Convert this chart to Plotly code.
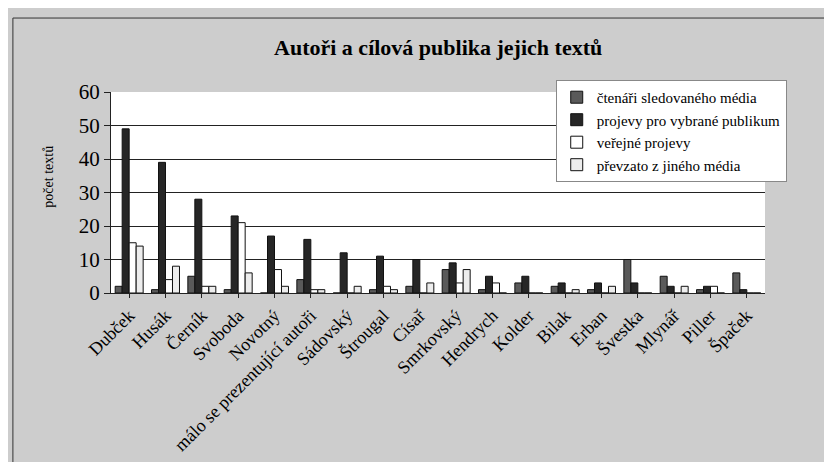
import plotly.graph_objects as go

categories = ["Dubček", "Husák", "Černík", "Svoboda", "Novotný",
              "málo se prezentující autoři", "Sádovský", "Štrougal", "Císař",
              "Smrkovský", "Hendrych", "Kolder", "Bilak", "Erban", "Švestka",
              "Mlynář", "Piller", "Špaček"]

ctenari = [2, 1, 5, 1, 0, 4, 0, 1, 2, 7, 1, 3, 2, 1, 10, 5, 1, 6]
projevy_vybrane = [49, 39, 28, 23, 17, 16, 12, 11, 10, 9, 5, 5, 3, 3, 3, 2, 2, 1]
verejne = [15, 4, 2, 21, 7, 1, 0, 2, 0, 3, 3, 0, 0, 0, 0, 0, 2, 0]
prevzato = [14, 8, 2, 6, 2, 1, 2, 1, 3, 7, 0, 0, 1, 2, 0, 2, 0, 0]

series_names = ["čtenáři sledovaného média", "projevy pro vybrané publikum",
                "veřejné projevy", "převzato z jiného média"]
y_ticks = [0, 10, 20, 30, 40, 50, 60]

serif = "Liberation Serif, serif"
fills = ["#5a5a5a", "#262626", "#ffffff", "#ededed"]

fig = go.Figure()
for name, vals, col in zip(series_names, [ctenari, projevy_vybrane, verejne, prevzato], fills):
    fig.add_trace(go.Bar(
        x=categories, y=vals, name=name,
        marker=dict(color=col, line=dict(color="#111111", width=1)),
    ))

fig.update_layout(
    width=832, height=462,
    barmode="group", bargap=0.23, bargroupgap=0,
    paper_bgcolor="#cdcdcd", plot_bgcolor="#ffffff",
    margin=dict(l=103, r=75, t=84, b=177),
    title=dict(text="<b>Autoři a cílová publika jejich textů</b>",
               x=0.517, xanchor="center", y=0.915, yanchor="middle",
               font=dict(family=serif, size=22, color="#000000")),
    font=dict(family=serif, color="#000000"),
    legend=dict(x=0.68, y=1.06, xanchor="left", yanchor="top",
                bgcolor="#ffffff", bordercolor="#888888", borderwidth=1,
                font=dict(family=serif, size=15, color="#000000")),
)

fig.update_yaxes(
    range=[0, 60], tickvals=y_ticks, ticktext=[str(v) for v in y_ticks],
    showgrid=True, gridcolor="#222222", gridwidth=1,
    showline=True, linecolor="#222222", linewidth=1,
    ticks="outside", ticklen=6, tickcolor="#222222",
    tickfont=dict(family=serif, size=21, color="#000000"),
    zeroline=False, automargin=False,
)
fig.update_xaxes(
    tickangle=-45, tickfont=dict(family=serif, size=18, color="#000000"),
    showline=True, linecolor="#222222", linewidth=1,
    ticks="outside", ticklen=4, tickcolor="#222222",
    automargin=False,
)

fig.add_annotation(text="počet textů", xref="paper", yref="paper",
                   x=-0.096, y=0.58, textangle=-90, showarrow=False,
                   xanchor="center", yanchor="middle",
                   font=dict(family=serif, size=14, color="#000000"))

fig.add_shape(type="rect", xref="paper", yref="paper",
              x0=-0.15, x1=1.109, y0=-0.846, y1=1.368,
              line=dict(color="#333333", width=1), fillcolor="rgba(0,0,0,0)", layer="below")

fig.write_html("out.html")
